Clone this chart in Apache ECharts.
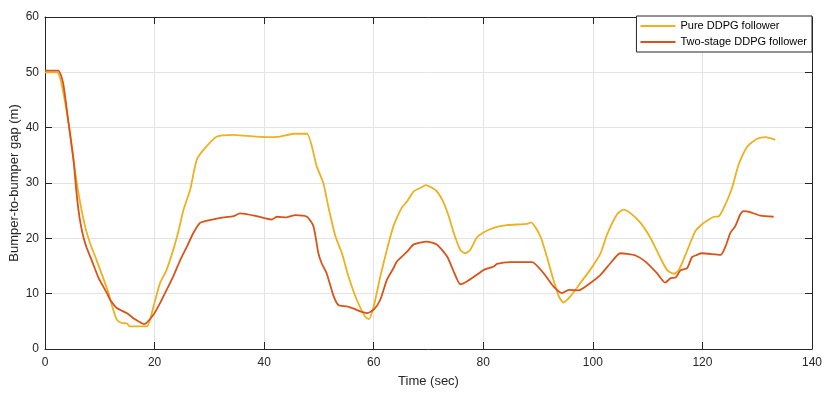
<!DOCTYPE html>
<html>
<head>
<meta charset="utf-8">
<script src="https://cdn.jsdelivr.net/npm/echarts@6/dist/echarts.min.js"></script>
<style>
  html, body { margin: 0; padding: 0; background: #fff; }
  #chart { width: 830px; height: 395px; }
</style>
</head>
<body>
<div id="chart"></div>
<script>
// time (sec) and gap (m)
var pureTime = [0, 2.2, 3.0, 4.4, 5.2, 6.1, 7.3, 8.2, 9.4, 11.6, 11.9, 13.1, 14.0, 15.0, 15.4, 18.6, 19.8, 21.0, 22.2, 24.1, 25.3, 26.5, 27.7, 29.2, 31.4, 34.4, 37.0, 40.5, 42.9, 45.4, 47.8, 49.6, 50.8, 51.7, 53.0, 54.2, 55.4, 56.9, 58.4, 59.1, 60.0, 61.2, 62.4, 63.6, 65.1, 66.1, 67.3, 68.5, 69.5, 71.2, 72.5, 73.7, 74.6, 75.8, 76.7, 77.6, 78.8, 80.1, 81.9, 84.3, 88.0, 88.7, 90.4, 91.6, 92.8, 93.8, 94.6, 95.9, 97.7, 99.5, 101.4, 102.6, 104.4, 105.6, 106.8, 108.7, 110.5, 112.3, 113.6, 114.8, 115.7, 116.9, 118.7, 119.9, 121.2, 122.1, 123.0, 123.9, 125.4, 126.6, 128.2, 130.0, 131.5, 133.3];
var pureGap = [50.0, 50.0, 48.0, 40.2, 34.2, 28.2, 22.2, 19.2, 16.1, 10.1, 8.9, 5.3, 4.7, 4.6, 4.1, 4.1, 7.7, 11.9, 14.3, 20.3, 25.2, 28.8, 34.2, 36.3, 38.4, 38.7, 38.5, 38.3, 38.4, 38.9, 38.9, 33.0, 30.0, 25.8, 20.4, 17.3, 13.1, 8.9, 5.9, 5.4, 7.7, 13.1, 17.9, 22.2, 25.5, 26.7, 28.5, 29.1, 29.6, 28.8, 27.0, 24.0, 21.0, 17.9, 17.3, 17.9, 20.1, 21.1, 21.9, 22.4, 22.6, 22.9, 20.4, 16.7, 12.5, 9.5, 8.4, 9.5, 11.9, 14.3, 17.3, 20.7, 24.3, 25.2, 24.6, 22.8, 20.1, 16.5, 14.2, 13.6, 14.3, 17.0, 21.3, 22.5, 23.4, 23.9, 24.0, 25.5, 29.1, 33.3, 36.6, 38.0, 38.3, 37.8];

var twoTime = [0, 2.4, 3.3, 4.3, 5.2, 5.7, 6.1, 6.5, 7.0, 7.6, 8.5, 9.8, 11.3, 11.9, 13.1, 14.9, 16.4, 18.1, 19.8, 21.0, 22.2, 23.4, 24.7, 25.9, 27.1, 28.3, 29.2, 32.0, 34.4, 35.6, 38.7, 41.4, 42.3, 44.1, 45.7, 47.8, 49.0, 49.9, 50.5, 51.4, 52.7, 53.6, 55.1, 56.6, 57.8, 58.8, 60.0, 61.2, 62.4, 63.6, 64.2, 66.1, 67.3, 69.7, 71.5, 73.4, 74.6, 75.8, 77.0, 78.8, 80.1, 81.9, 82.5, 84.9, 88.9, 91.0, 92.8, 94.4, 95.6, 97.4, 99.5, 101.4, 103.2, 105.0, 106.2, 107.8, 109.6, 111.7, 113.2, 114.2, 115.1, 116.0, 117.2, 118.1, 119.0, 119.9, 123.3, 124.2, 125.1, 126.0, 126.9, 127.5, 128.5, 130.6, 133.0];
var twoGap = [50.3, 50.3, 48.1, 40.8, 34.2, 28.8, 25.2, 22.6, 20.3, 18.3, 16.1, 12.8, 10.1, 8.9, 7.4, 6.5, 5.4, 4.5, 6.2, 8.3, 10.7, 13.1, 16.1, 18.5, 21.0, 22.8, 23.1, 23.7, 24.0, 24.5, 24.0, 23.4, 23.9, 23.8, 24.2, 23.9, 22.2, 17.3, 15.5, 13.7, 9.5, 7.9, 7.7, 7.2, 6.7, 6.5, 7.1, 8.9, 12.5, 14.6, 15.8, 17.6, 18.9, 19.4, 18.9, 16.7, 14.0, 11.7, 12.2, 13.4, 14.3, 14.9, 15.4, 15.7, 15.7, 13.7, 11.3, 10.1, 10.7, 10.6, 11.9, 13.4, 15.5, 17.3, 17.2, 16.9, 15.8, 13.7, 12.0, 12.8, 12.9, 14.2, 14.6, 16.6, 17.0, 17.3, 17.0, 18.5, 21.0, 22.2, 24.3, 24.9, 24.8, 24.1, 23.9];

var seriesNames = ['Pure DDPG follower', 'Two-stage DDPG follower'];
var seriesColors = ['#EDB120', '#D95319'];

function pairs(xs, ys) {
    var out = [];
    for (var i = 0; i < xs.length; i++) out.push([xs[i], ys[i]]);
    return out;
}

var font = 'Liberation Sans, Arial, Helvetica, sans-serif';
var axisColor = '#262626';

var chart = echarts.init(document.getElementById('chart'), null, { renderer: 'canvas' });

// MATLAB style box: ticks inside on all four sides
function boxAxis(pos, min, max, interval, main) {
    return {
        type: 'value',
        position: pos,
        min: min,
        max: max,
        interval: interval,
        axisLine: { show: true, onZero: false, lineStyle: { color: axisColor, width: 1 } },
        axisTick: { show: true, inside: true, length: 7, lineStyle: { color: axisColor } },
        axisLabel: { show: main, color: axisColor, fontFamily: font, fontSize: 12, margin: 8 },
        splitLine: { show: main, lineStyle: { color: '#e3e3e3', width: 1 } }
    };
}

var xMain = boxAxis('bottom', 0, 140, 20, true);
xMain.name = 'Time (sec)';
xMain.nameLocation = 'middle';
xMain.nameGap = 26;
xMain.nameMoveOverlap = false;
xMain.nameTextStyle = { color: axisColor, fontFamily: font, fontSize: 13 };

var yMain = boxAxis('left', 0, 60, 10, true);
yMain.axisLabel.margin = 6;
yMain.name = 'Bumper-to-bumper gap (m)';
yMain.nameLocation = 'middle';
yMain.nameGap = 24;
yMain.nameMoveOverlap = false;
yMain.nameTextStyle = { color: axisColor, fontFamily: font, fontSize: 13 };

var option = {
    backgroundColor: '#fff',
    animation: false,
    grid: { left: 45, right: 18, top: 17, bottom: 46, containLabel: false, outerBoundsMode: 'none' },
    legend: {
        data: seriesNames,
        orient: 'vertical',
        right: 18,
        top: 16,
        icon: 'rect',
        itemWidth: 35,
        itemHeight: 2,
        itemGap: 2,
        padding: [3, 5, 3, 4],
        backgroundColor: '#fff',
        borderColor: axisColor,
        borderWidth: 1,
        borderRadius: 0,
        textStyle: { color: '#000', fontFamily: font, fontSize: 11, lineHeight: 14 },
        z: 10
    },
    xAxis: [xMain, boxAxis('top', 0, 140, 20, false)],
    yAxis: [yMain, boxAxis('right', 0, 60, 10, false)],
    series: [
        {
            name: seriesNames[0],
            type: 'line',
            data: pairs(pureTime, pureGap),
            showSymbol: false,
            symbol: 'none',
            smooth: 0.2,
            color: seriesColors[0],
            lineStyle: { color: seriesColors[0], width: 1.8 }
        },
        {
            name: seriesNames[1],
            type: 'line',
            data: pairs(twoTime, twoGap),
            showSymbol: false,
            symbol: 'none',
            smooth: 0.2,
            color: seriesColors[1],
            lineStyle: { color: seriesColors[1], width: 1.8 }
        }
    ]
};

chart.setOption(option);
</script>
</body>
</html>
